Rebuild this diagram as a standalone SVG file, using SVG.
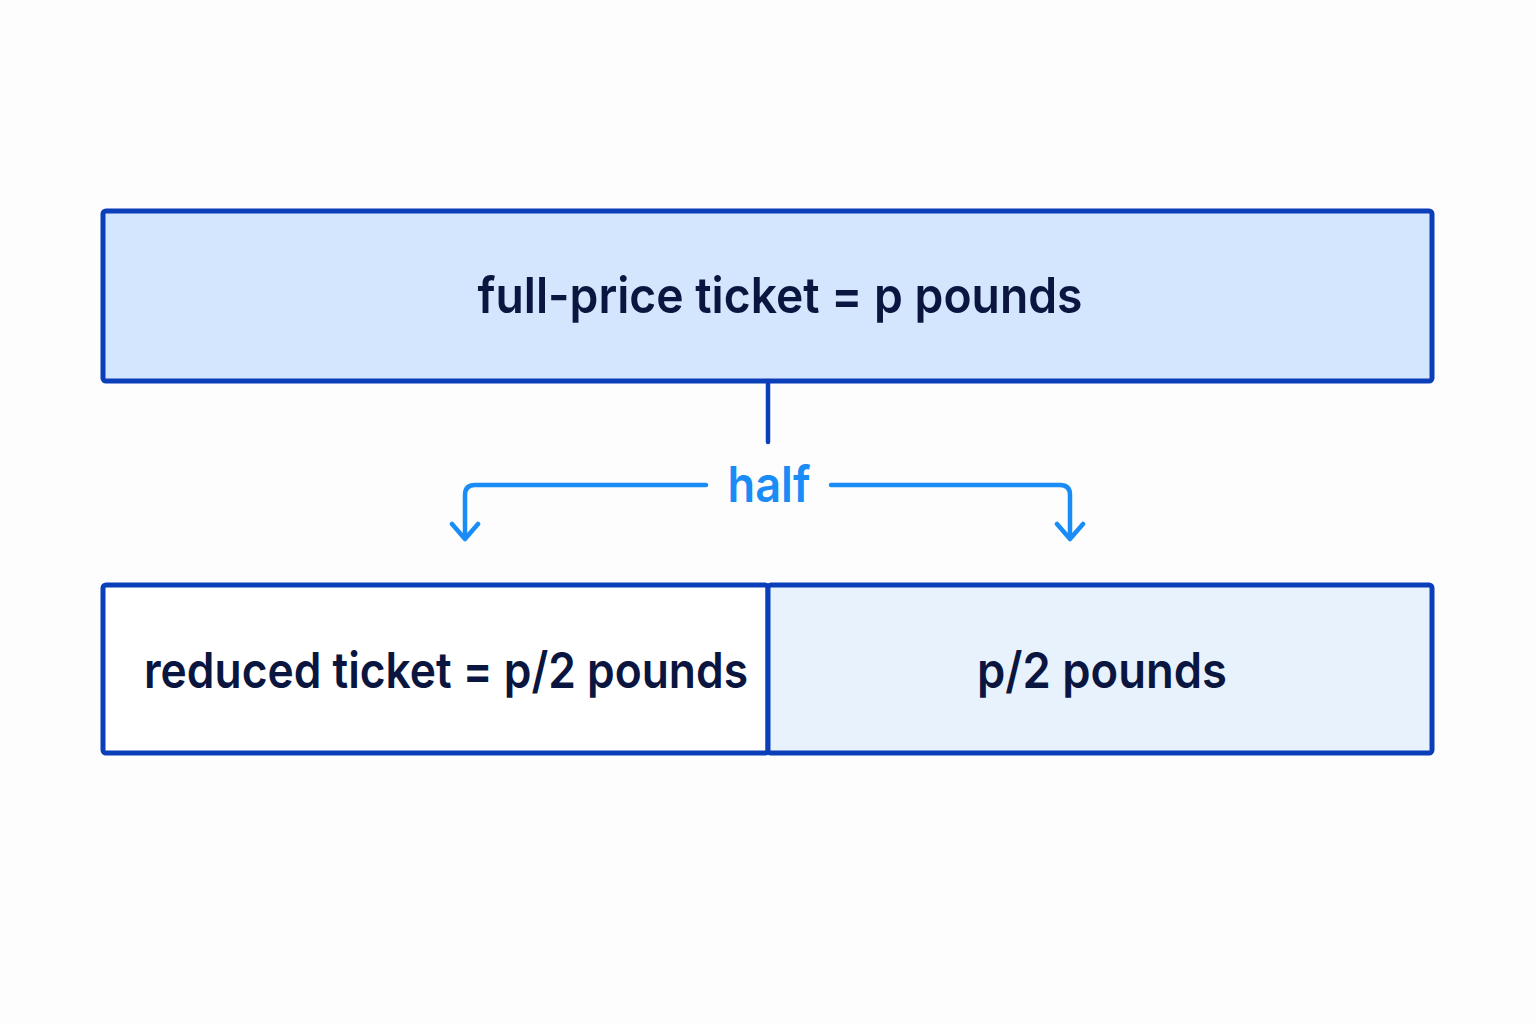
<svg xmlns="http://www.w3.org/2000/svg" width="1536" height="1024" viewBox="0 0 1536 1024">
<style>
.box{stroke:#0b3fb9;stroke-width:5;stroke-linejoin:round}
.t{font-family:Inter,"Noto Sans","Liberation Sans",sans-serif;font-size:50px;font-weight:600;fill:#0b1640;text-anchor:middle}
.lbl{font-family:Inter,"Noto Sans","Liberation Sans",sans-serif;font-size:50px;font-weight:600;fill:#1a8cf5;text-anchor:middle}
.conn{fill:none;stroke:#1a8cf5;stroke-width:4.5;stroke-linecap:round;stroke-linejoin:round}
</style>
<rect width="1536" height="1024" fill="#fdfdfd"/>
<g id="full">
<rect class="box" x="103" y="211" width="1329" height="170" rx="3" fill="#d4e6fd"/>
<text class="t" x="780" y="313" textLength="605" lengthAdjust="spacingAndGlyphs">full-price ticket = p pounds</text>
</g>
<g id="reduced">
<rect class="box" x="103" y="585" width="665" height="168" rx="3" fill="#ffffff"/>
<text class="t" x="446" y="688" textLength="604" lengthAdjust="spacingAndGlyphs">reduced ticket = p/2 pounds</text>
</g>
<g id="remainder">
<rect class="box" x="768" y="585" width="664" height="168" rx="3" fill="#e8f2fd"/>
<text class="t" x="1102" y="688" textLength="250" lengthAdjust="spacingAndGlyphs">p/2 pounds</text>
</g>
<g id="connectors">
<line x1="768" y1="381" x2="768" y2="442" stroke="#0b3fb9" stroke-width="4.5" stroke-linecap="round"/>
<path class="conn" d="M706 485 H475 Q465 485 465 495 V539 M452 524 L465 539 L478 524"/>
<path class="conn" d="M831 485 H1060 Q1070 485 1070 495 V539 M1057 524 L1070 539 L1083 524"/>
<text class="lbl" x="769" y="502" textLength="83" lengthAdjust="spacingAndGlyphs">half</text>
</g>
</svg>
